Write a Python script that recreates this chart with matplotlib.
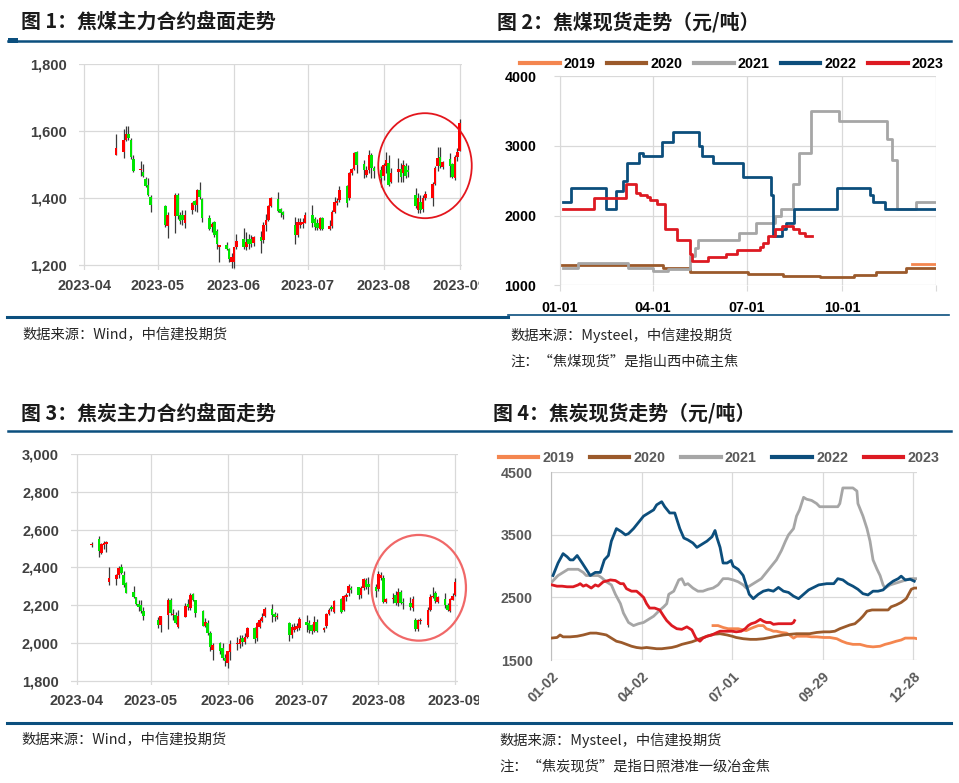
import datetime as dt

import matplotlib
matplotlib.use("Agg")
import matplotlib.pyplot as plt
import matplotlib.dates as mdates
import numpy as np
from matplotlib.font_manager import FontProperties
from matplotlib.lines import Line2D
from matplotlib.patches import Ellipse, Rectangle

plt.rcParams['font.family'] = ['Noto Sans CJK SC', 'DejaVu Sans']

# ---------------- data ----------------
# 图1 焦煤主力合约 (OHLC)
jm_dates = ["04-14", "04-17", "04-18", "04-19", "04-20", "04-21", "04-24", "04-25", "04-26", "04-27", "04-28",
            "05-04", "05-05", "05-08", "05-09", "05-10", "05-11", "05-12", "05-15", "05-16", "05-17", "05-18",
            "05-19", "05-22", "05-23", "05-24", "05-25", "05-26", "05-29", "05-30", "05-31",
            "06-01", "06-02", "06-05", "06-06", "06-07", "06-08", "06-09", "06-12", "06-13", "06-14", "06-15",
            "06-16", "06-19", "06-20", "06-21", "06-26", "06-27", "06-28", "06-29", "06-30",
            "07-03", "07-04", "07-05", "07-06", "07-07", "07-10", "07-11", "07-12", "07-13", "07-14", "07-17",
            "07-18", "07-19", "07-20", "07-21", "07-24", "07-25", "07-26", "07-27", "07-28", "07-31",
            "08-01", "08-02", "08-03", "08-04", "08-07", "08-08", "08-09", "08-10", "08-11", "08-14", "08-15",
            "08-16", "08-17", "08-18", "08-21", "08-22", "08-23", "08-24", "08-25", "08-28", "08-29", "08-30",
            "08-31", "09-01"]
jm_open = [1529, 1538, 1573, 1593, 1573, 1518, 1485, 1480, 1458, 1440, 1405,
           1378, 1318, 1348, 1411, 1350, 1350, 1326, 1366, 1393, 1381, 1426,
           1398, 1342, 1315, 1328, 1301, 1256, 1260, 1248, 1211,
           1211, 1256, 1278, 1256, 1278, 1278, 1268, 1285, 1275, 1321, 1335,
           1378, 1398, 1368, 1358, 1320, 1290, 1320, 1322, 1327,
           1350, 1337, 1327, 1307, 1340, 1308, 1317, 1360, 1385, 1395, 1438,
           1400, 1475, 1488, 1538, 1502, 1470, 1485, 1530, 1490, 1485,
           1467, 1495, 1505, 1450, 1480, 1487, 1477, 1497, 1485, 1410, 1365,
           1390, 1367, 1400, 1400, 1443, 1495, 1523, 1492, 1518, 1502, 1460,
           1523, 1542]
jm_high = [1591, 1608, 1615, 1615, 1580, 1530, 1510, 1501, 1463, 1462, 1411,
           1380, 1358, 1416, 1416, 1358, 1365, 1365, 1390, 1396, 1428, 1448,
           1400, 1351, 1330, 1333, 1308, 1262, 1270, 1253, 1238,
           1256, 1293, 1311, 1300, 1293, 1290, 1288, 1303, 1328, 1353, 1380,
           1403, 1418, 1372, 1363, 1345, 1340, 1340, 1340, 1360,
           1380, 1345, 1337, 1345, 1345, 1335, 1365, 1405, 1400, 1438, 1440,
           1478, 1490, 1538, 1540, 1515, 1495, 1545, 1535, 1495, 1495,
           1505, 1538, 1530, 1490, 1520, 1505, 1515, 1505, 1500, 1430, 1415,
           1410, 1410, 1422, 1448, 1495, 1552, 1552, 1512, 1535, 1505, 1530,
           1550, 1637]
jm_low = [1528, 1520, 1570, 1575, 1518, 1480, 1466, 1463, 1433, 1408, 1358,
          1313, 1283, 1296, 1338, 1323, 1320, 1310, 1353, 1363, 1358, 1398,
          1330, 1305, 1300, 1285, 1248, 1211, 1245, 1211, 1191,
          1191, 1248, 1248, 1246, 1248, 1255, 1258, 1238, 1268, 1303, 1333,
          1373, 1360, 1345, 1338, 1263, 1285, 1310, 1310, 1325,
          1315, 1305, 1305, 1305, 1305, 1305, 1310, 1357, 1380, 1390, 1375,
          1395, 1470, 1485, 1475, 1460, 1465, 1475, 1460, 1460, 1435,
          1455, 1475, 1437, 1445, 1450, 1450, 1450, 1460, 1465, 1370, 1355,
          1355, 1360, 1395, 1378, 1440, 1482, 1490, 1488, 1465, 1460, 1455,
          1510, 1540]
jm_close = [1549, 1573, 1593, 1580, 1523, 1483, 1487, 1468, 1438, 1411, 1381,
            1321, 1351, 1411, 1346, 1333, 1335, 1350, 1386, 1380, 1426, 1403,
            1340, 1308, 1323, 1290, 1263, 1261, 1248, 1218, 1226,
            1256, 1273, 1256, 1270, 1263, 1263, 1285, 1273, 1321, 1335, 1378,
            1400, 1363, 1355, 1351, 1290, 1330, 1330, 1330, 1350,
            1327, 1315, 1310, 1340, 1308, 1317, 1360, 1390, 1393, 1425, 1385,
            1475, 1488, 1535, 1500, 1485, 1485, 1530, 1490, 1483, 1460,
            1500, 1513, 1440, 1475, 1487, 1463, 1500, 1467, 1480, 1378, 1400,
            1365, 1402, 1412, 1443, 1490, 1520, 1495, 1507, 1495, 1465, 1523,
            1537, 1624]

# 图3 焦炭主力合约 (OHLC)
j_dates = ["04-07", "04-10", "04-11", "04-12", "04-13", "04-14", "04-17", "04-18", "04-19", "04-20", "04-21",
           "04-24", "04-25", "04-26", "04-27", "04-28",
           "05-04", "05-05", "05-08", "05-09", "05-10", "05-11", "05-12", "05-15", "05-16", "05-17", "05-18",
           "05-19", "05-22", "05-23", "05-24", "05-25", "05-26", "05-29", "05-30", "05-31",
           "06-01", "06-02", "06-05", "06-06", "06-07", "06-08", "06-09", "06-12", "06-13", "06-14", "06-15",
           "06-16", "06-19", "06-20", "06-21", "06-26", "06-27", "06-28", "06-29", "06-30",
           "07-03", "07-04", "07-05", "07-06", "07-07", "07-10", "07-11", "07-12", "07-13", "07-14", "07-17",
           "07-18", "07-19", "07-20", "07-21", "07-24", "07-25", "07-26", "07-27", "07-28", "07-31",
           "08-01", "08-02", "08-03", "08-04", "08-07", "08-08", "08-09", "08-10", "08-11", "08-14", "08-15",
           "08-16", "08-17", "08-18", "08-21", "08-22", "08-23", "08-24", "08-25", "08-28", "08-29", "08-30",
           "08-31", "09-01"]
j_open = [2520, 2553, 2477, 2517, 2523, 2325, 2339, 2360, 2400, 2360, 2319,
          2272, 2242, 2207, 2202, 2167,
          2123, 2093, 2146, 2228, 2150, 2149, 2082, 2140, 2207, 2184, 2260,
          2225, 2167, 2088, 2105, 2053, 1965, 2000, 1974, 1921,
          1895, 1951, 1995, 1995, 2025, 2007, 2030, 2078, 2025, 2087, 2118,
          2143, 2180, 2154, 2136, 2108, 2042, 2069, 2072, 2078,
          2109, 2104, 2095, 2065, 2113, 2069, 2090, 2154, 2192, 2166, 2231,
          2175, 2242, 2263, 2290, 2295, 2254, 2290, 2333, 2313, 2298,
          2284, 2343, 2343, 2219, 2232, 2254, 2214, 2272, 2215, 2210, 2184,
          2119, 2074, 2114, 2097, 2172, 2242, 2263, 2219, 2232, 2202, 2167,
          2228, 2254]
j_high = [2535, 2565, 2530, 2538, 2540, 2400, 2368, 2407, 2418, 2383, 2322,
          2302, 2245, 2228, 2228, 2190,
          2137, 2144, 2237, 2237, 2180, 2165, 2175, 2214, 2232, 2263, 2267,
          2225, 2176, 2130, 2120, 2062, 2000, 2003, 2000, 1940,
          1956, 2018, 2030, 2040, 2040, 2055, 2082, 2087, 2110, 2130, 2160,
          2192, 2206, 2165, 2160, 2110, 2100, 2108, 2105, 2140,
          2148, 2120, 2100, 2145, 2125, 2087, 2160, 2185, 2200, 2226, 2236,
          2252, 2265, 2310, 2300, 2298, 2300, 2345, 2345, 2350, 2310,
          2383, 2375, 2360, 2240, 2263, 2277, 2290, 2280, 2240, 2242, 2248,
          2130, 2125, 2130, 2193, 2260, 2295, 2277, 2250, 2267, 2210, 2240,
          2263, 2342]
j_low = [2509, 2456, 2470, 2500, 2482, 2307, 2307, 2342, 2368, 2298, 2265,
         2237, 2200, 2167, 2160, 2120,
         2079, 2058, 2075, 2149, 2120, 2100, 2080, 2137, 2175, 2175, 2220,
         2137, 2088, 2085, 2040, 1956, 1909, 1940, 1909, 1877,
         1868, 1909, 1960, 1975, 1985, 1995, 2025, 2002, 2010, 2078, 2110,
         2136, 2113, 2115, 2125, 2012, 2025, 2060, 2062, 2070,
         2060, 2055, 2050, 2060, 2060, 2060, 2078, 2150, 2170, 2160, 2160,
         2170, 2220, 2250, 2265, 2232, 2240, 2280, 2285, 2262, 2245,
         2275, 2335, 2210, 2210, 2210, 2200, 2196, 2205, 2180, 2176, 2170,
         2061, 2061, 2100, 2085, 2170, 2237, 2214, 2210, 2184, 2170, 2163,
         2225, 2250]
j_close = [2520, 2488, 2523, 2530, 2533, 2345, 2360, 2395, 2372, 2307, 2267,
           2242, 2207, 2192, 2167, 2144,
           2097, 2144, 2228, 2158, 2155, 2105, 2144, 2196, 2190, 2254, 2228,
           2158, 2088, 2109, 2053, 1979, 1991, 1956, 1921, 1904,
           1956, 1996, 1998, 2020, 2007, 2034, 2078, 2020, 2104, 2122, 2140,
           2180, 2148, 2140, 2145, 2042, 2086, 2086, 2088, 2125,
           2095, 2069, 2062, 2113, 2065, 2078, 2154, 2175, 2178, 2224, 2166,
           2249, 2254, 2302, 2282, 2254, 2290, 2337, 2298, 2295, 2277,
           2365, 2360, 2219, 2231, 2238, 2214, 2272, 2210, 2210, 2190, 2232,
           2074, 2123, 2123, 2172, 2246, 2249, 2224, 2246, 2202, 2175, 2232,
           2249, 2325]

# 图2 焦煤现货 (day of year, step values)
years = ["2019", "2020", "2021", "2022", "2023"]
year_colors = ["#F4864F", "#9B5A2B", "#A6A6A6", "#0C4E7C", "#DD1A22"]

cm_days_2019 = [341, 364]
cm_vals_2019 = [1300, 1300]
cm_days_2020 = [2, 100, 126, 182, 216, 252, 285, 306, 335, 364]
cm_vals_2020 = [1285, 1255, 1195, 1160, 1133, 1114, 1143, 1186, 1243, 1243]
cm_days_2021 = [3, 17, 66, 90, 105, 126, 131, 134, 173, 190, 208, 214, 226, 231, 243, 270, 317, 321, 326, 345, 364]
cm_vals_2021 = [1250, 1320, 1250, 1200, 1230, 1420, 1530, 1650, 1750, 1900, 2000, 2100, 2450, 2900, 3500, 3350,
                3100, 2800, 2100, 2200, 2200]
cm_days_2022 = [3, 11, 45, 54, 61, 65, 76, 80, 99, 109, 135, 137, 148, 177, 204, 206, 215, 219, 227, 268, 300, 303,
                315, 364]
cm_vals_2022 = [2200, 2400, 2100, 2350, 2500, 2750, 2900, 2850, 3050, 3200, 3000, 2850, 2750, 2550, 2300, 1700, 1800,
                1900, 2100, 2400, 2300, 2200, 2100, 2100]
cm_days_2023 = [3, 33, 64, 74, 77, 84, 87, 94, 102, 113, 126, 128, 143, 161, 171, 194, 197, 201, 208, 215, 226, 231,
                237, 244]
cm_vals_2023 = [2100, 2250, 2450, 2320, 2290, 2270, 2220, 2170, 1800, 1650, 1450, 1350, 1400, 1450, 1500, 1550, 1600,
                1700, 1800, 1850, 1800, 1750, 1700, 1700]

# 图4 焦炭现货 (day of year, values)
ck_days_2019 = [162, 167, 172, 177, 182, 187, 192, 195, 199, 202, 207, 212, 215, 219, 222, 225, 230, 235, 238, 242,
                245, 250, 255, 260, 265, 272, 278, 285, 290, 295, 301, 308, 315, 321, 328, 333, 338, 344, 349, 353,
                358, 362, 365]
ck_vals_2019 = [2050, 2050, 2020, 2000, 2000, 2000, 1980, 1970, 2000, 2020, 2050, 2050, 2000, 1980, 1960, 1960, 1940,
                1930, 1900, 1850, 1880, 1880, 1880, 1870, 1870, 1860, 1860, 1840, 1800, 1770, 1750, 1750, 1720, 1710,
                1720, 1750, 1770, 1800, 1820, 1850, 1850, 1850, 1840]
ck_days_2020 = [1, 7, 10, 13, 20, 27, 33, 40, 46, 53, 56, 61, 66, 71, 76, 81, 86, 91, 96, 101, 106, 111, 116, 121,
                126, 131, 136, 141, 146, 151, 156, 162, 169, 176, 181, 185, 192, 199, 205, 212, 219, 225, 232, 238,
                245, 252, 258, 265, 272, 278, 283, 288, 293, 298, 303, 308, 311, 315, 320, 325, 331, 336, 339, 344,
                349, 354, 357, 359, 362, 365]
ck_vals_2020 = [1850, 1860, 1900, 1870, 1870, 1880, 1900, 1930, 1930, 1910, 1900, 1850, 1800, 1780, 1750, 1720, 1700,
                1690, 1700, 1690, 1680, 1680, 1690, 1700, 1720, 1750, 1770, 1790, 1820, 1850, 1880, 1910, 1920, 1900,
                1880, 1860, 1840, 1830, 1830, 1840, 1860, 1880, 1900, 1910, 1920, 1920, 1920, 1940, 1950, 1950, 1960,
                2000, 2030, 2060, 2080, 2150, 2200, 2280, 2300, 2300, 2300, 2300, 2350, 2380, 2420, 2480, 2570, 2630,
                2650, 2650]
ck_days_2021 = [2, 8, 13, 18, 23, 28, 33, 36, 43, 48, 51, 56, 61, 65, 70, 73, 78, 83, 88, 93, 98, 103, 108, 113, 116,
                118, 123, 128, 131, 134, 137, 142, 147, 152, 157, 162, 167, 172, 177, 182, 187, 192, 195, 200, 205,
                210, 215, 220, 225, 230, 234, 237, 242, 245, 248, 252, 255, 260, 265, 268, 275, 282, 286, 288, 291,
                296, 301, 305, 306, 311, 315, 318, 321, 325, 328, 331, 333, 338, 348, 358, 364]
ck_vals_2021 = [2750, 2850, 2900, 2950, 2950, 2950, 2900, 2850, 2850, 2850, 2820, 2750, 2700, 2550, 2400, 2250, 2100,
                2050, 2080, 2100, 2150, 2200, 2280, 2350, 2400, 2550, 2600, 2780, 2800, 2700, 2720, 2650, 2600, 2600,
                2630, 2650, 2700, 2800, 2800, 2780, 2750, 2700, 2650, 2700, 2750, 2800, 2900, 3000, 3100, 3250, 3400,
                3500, 3600, 3800, 3900, 4100, 4070, 4050, 4000, 3950, 3950, 3950, 3950, 4000, 4250, 4250, 4250, 4200,
                4000, 3800, 3600, 3400, 3100, 2950, 2850, 2700, 2650, 2700, 2750, 2800, 2800]
ck_days_2022 = [3, 8, 13, 17, 20, 23, 27, 32, 36, 40, 45, 50, 54, 58, 61, 66, 71, 75, 78, 83, 88, 93, 98, 103, 106,
                111, 114, 119, 124, 129, 133, 137, 142, 146, 151, 156, 161, 164, 166, 169, 172, 176, 180, 182, 187,
                192, 195, 198, 202, 207, 212, 217, 222, 227, 232, 237, 242, 247, 252, 257, 262, 267, 275, 282, 286,
                291, 296, 301, 306, 311, 316, 321, 326, 331, 336, 341, 346, 349, 353, 358, 362]
ck_vals_2022 = [2850, 3050, 3200, 3150, 3100, 3100, 3170, 3050, 2950, 2850, 2900, 2900, 3100, 3170, 3400, 3600, 3550,
                3500, 3520, 3600, 3700, 3800, 3850, 3900, 3980, 4030, 3950, 3850, 3850, 3600, 3450, 3420, 3370, 3300,
                3350, 3400, 3470, 3570, 3450, 3300, 3050, 3050, 3090, 3000, 2950, 2850, 2700, 2550, 2480, 2550, 2600,
                2620, 2600, 2660, 2600, 2580, 2520, 2480, 2550, 2620, 2660, 2700, 2720, 2720, 2800, 2780, 2720, 2680,
                2630, 2560, 2540, 2600, 2600, 2620, 2700, 2760, 2800, 2840, 2780, 2790, 2760]
ck_days_2023 = [2, 7, 12, 17, 23, 28, 30, 33, 36, 41, 45, 48, 53, 58, 60, 65, 70, 73, 76, 81, 86, 89, 93, 96, 99, 104,
                109, 113, 116, 121, 126, 131, 136, 141, 145, 149, 152, 156, 161, 166, 169, 174, 177, 181, 185, 190,
                194, 197, 200, 204, 209, 212, 215, 219, 222, 227, 232, 237, 240, 242, 243]
ck_vals_2023 = [2700, 2680, 2680, 2670, 2670, 2700, 2720, 2680, 2700, 2650, 2700, 2680, 2750, 2770, 2780, 2770, 2720,
                2720, 2640, 2600, 2600, 2560, 2500, 2400, 2330, 2330, 2300, 2200, 2130, 2050, 2000, 1990, 2030, 1980,
                1850, 1800, 1850, 1880, 1900, 1940, 1960, 1960, 1960, 1960, 1950, 1960, 2000, 2050, 2080, 2100, 2150,
                2120, 2100, 2100, 2070, 2080, 2080, 2080, 2080, 2100, 2130]

month_ticks = ["2023-04", "2023-05", "2023-06", "2023-07", "2023-08", "2023-09"]
cm_tick_days = [0, 90, 181, 273, 364]
cm_tick_labels = ["01-01", "04-01", "07-01", "10-01", ""]
ck_tick_days = [1, 91, 181, 271, 361]
ck_tick_labels = ["01-02", "04-02", "07-01", "09-29", "12-28"]

# ---------------- layout helpers ----------------
W, H = 959, 783
NAVY = "#0B4F7E"
GRID = "#D9D9D9"


def rect(l, t, r, b):
    return [l / W, 1 - b / H, (r - l) / W, (b - t) / H]


def fx(x):
    return x / W


def fy(y):
    return 1 - y / H


def to_num(days):
    return mdates.date2num([dt.datetime.strptime("2023-" + s, "%Y-%m-%d") for s in days])


LAT = ["Liberation Sans", "DejaVu Sans"]
candle_tick_fp = FontProperties(family=LAT, weight="bold", size=10.5)
tick_fp = FontProperties(family=LAT, weight="bold", size=10.3)
legend_fp = FontProperties(family=LAT, weight="bold", size=10.3)
title_fp = FontProperties(family=["Noto Sans CJK SC", "DejaVu Sans"], weight="bold", size=14.3)
note_fp = FontProperties(family=["Noto Sans CJK SC", "DejaVu Sans"], size=10.3)


def draw_candles(ax, dates, o, h, l, c):
    x = to_num(dates)
    o, h, l, c = map(np.array, (o, h, l, c))
    ax.vlines(x, l, h, color="#3A3A3A", lw=0.9, zorder=2)
    bottom = np.minimum(o, c)
    height = np.maximum(np.abs(c - o), 3)
    colors = np.where(c >= o, "#FF0000", "#00E600")
    ax.bar(x, height, bottom=bottom, width=1.05, color=colors, linewidth=0, zorder=3)


def candle_axes(box, first_px, last_px, ymin, ymax, yticks):
    ax = fig.add_axes(rect(*box))
    a = mdates.date2num(dt.datetime(2023, 4, 1))
    b = mdates.date2num(dt.datetime(2023, 9, 1))
    per_day = (last_px - first_px) / (b - a)
    ax.set_xlim(a - (first_px - box[0]) / per_day, b + (box[2] - last_px) / per_day)
    ax.set_ylim(ymin, ymax)
    ax.set_yticks(yticks)
    ax.set_yticklabels([f"{v:,}" for v in yticks], fontproperties=candle_tick_fp)
    ax.set_xticks([mdates.date2num(dt.datetime(2023, m, 1)) for m in range(4, 10)])
    ax.set_xticklabels(month_ticks, fontproperties=candle_tick_fp)
    ax.grid(True, color=GRID, lw=0.9, zorder=0)
    ax.set_axisbelow(True)
    for s in ax.spines.values():
        s.set_visible(False)
    ax.tick_params(length=0, labelcolor="#404040")
    ax.tick_params(axis="y", pad=8.5)
    ax.tick_params(axis="x", pad=6.5)
    return ax


fig = plt.figure(figsize=(W / 100, H / 100), dpi=100)
fig.patch.set_facecolor("white")

# ---------------- panel 1 ----------------
ax1 = candle_axes((79, 64.3, 462, 270), 84.3, 459.7, 1186, 1800, [1200, 1400, 1600, 1800])
draw_candles(ax1, jm_dates, jm_open, jm_high, jm_low, jm_close)

# ---------------- panel 3 ----------------
ax3 = candle_axes((70.7, 454.3, 458.3, 685), 76.7, 455, 1777, 3000, [1800, 2000, 2200, 2400, 2600, 2800, 3000])
draw_candles(ax3, j_dates, j_open, j_high, j_low, j_close)

# the last month label is cut off at the panel edge in the source
for y0, y1 in ((276, 296), (689, 709)):
    fig.add_artist(Rectangle((fx(479), fy(y1)), 20 / W, (y1 - y0) / H, color="white", lw=0, zorder=10))

# ---------------- panel 2 ----------------
ax2 = fig.add_axes(rect(560, 76, 936, 285.3))
cm_series = [(cm_days_2019, cm_vals_2019), (cm_days_2020, cm_vals_2020), (cm_days_2021, cm_vals_2021),
             (cm_days_2022, cm_vals_2022), (cm_days_2023, cm_vals_2023)]
for (days, vals), col in zip(cm_series, year_colors):
    ax2.step(days, vals, where="post", color=col, lw=2.0, zorder=3)
ax2.set_xlim(0, 364)
ax2.set_ylim(1000, 4000)
ax2.set_xticks(cm_tick_days)
ax2.set_xticklabels(cm_tick_labels, fontproperties=tick_fp)
ax2.set_yticks([1000, 2000, 3000, 4000])
ax2.set_yticklabels(["1000", "2000", "3000", "4000"], fontproperties=tick_fp)
ax2.grid(True, color=GRID, lw=0.9, zorder=0)
for k, s in ax2.spines.items():
    s.set_visible(k == "left")
ax2.spines["left"].set_color(GRID)
ax2.tick_params(axis="x", length=4, color=GRID, pad=7, labelcolor="black")
ax2.tick_params(axis="y", length=4, color=GRID, pad=13, labelcolor="black")

handles = [Line2D([], [], color=c, lw=3) for c in year_colors]
fig.legend(handles, years, loc="center", bbox_to_anchor=(fx(732), fy(64)), ncol=5, frameon=False,
           handlelength=2.75, handletextpad=0.3, columnspacing=0.8, prop=legend_fp, borderpad=0)

# ---------------- panel 4 ----------------
ax4 = fig.add_axes(rect(551, 472.3, 917.3, 660))
ck_series = [(ck_days_2019, ck_vals_2019), (ck_days_2020, ck_vals_2020), (ck_days_2021, ck_vals_2021),
             (ck_days_2022, ck_vals_2022), (ck_days_2023, ck_vals_2023)]
for (days, vals), col in zip(ck_series, year_colors):
    ax4.plot(days, vals, color=col, lw=2.0, zorder=3)
ax4.set_xlim(1, 365)
ax4.set_ylim(1500, 4500)
ax4.set_xticks(ck_tick_days)
ax4.set_xticklabels(ck_tick_labels, fontproperties=tick_fp, rotation=45, ha="right", rotation_mode="anchor")
ax4.set_yticks([1500, 2500, 3500, 4500])
ax4.set_yticklabels(["1500", "2500", "3500", "4500"], fontproperties=tick_fp)
ax4.grid(True, color=GRID, lw=0.9, zorder=0)
for k, s in ax4.spines.items():
    s.set_visible(k == "left")
ax4.spines["left"].set_color("#BFBFBF")
ax4.tick_params(axis="x", length=0, pad=7, labelcolor="#595959")
ax4.tick_params(axis="y", length=0, pad=13, labelcolor="#595959")

leg4 = fig.legend(handles, years, loc="center", bbox_to_anchor=(fx(719), fy(458)), ncol=5, frameon=False,
                  handlelength=2.75, handletextpad=0.3, columnspacing=1.1, prop=legend_fp, borderpad=0)
for t in leg4.get_texts():
    t.set_color("#595959")

# ---------------- titles, rules, notes ----------------
fig.text(fx(21), fy(21.5), "图 1：焦煤主力合约盘面走势", fontproperties=title_fp, va="center", color="#1A1A1A")
fig.text(fx(497), fy(21.5), "图 2：焦煤现货走势（元/吨）", fontproperties=title_fp, va="center", color="#1A1A1A")
fig.text(fx(21), fy(413), "图 3：焦炭主力合约盘面走势", fontproperties=title_fp, va="center", color="#1A1A1A")
fig.text(fx(493), fy(413), "图 4：焦炭现货走势（元/吨）", fontproperties=title_fp, va="center", color="#1A1A1A")

for y in (40.5, 431):
    fig.add_artist(Line2D([fx(8), fx(951)], [fy(y), fy(y)], color=NAVY, lw=1.8))
fig.add_artist(Rectangle((fx(8), fy(43)), 10 / W, 4.5 / H, color=NAVY, lw=0))
fig.add_artist(Line2D([fx(7), fx(508)], [fy(316.5), fy(316.5)], color=NAVY, lw=2.2))
fig.add_artist(Line2D([fx(508), fx(949)], [fy(315.5), fy(315.5)], color=NAVY, lw=1.2))
fig.add_artist(Line2D([fx(7), fx(951)], [fy(722.5), fy(722.5)], color=NAVY, lw=2.2))

notes = [(22, 335, "数据来源：Wind，中信建投期货"),
         (510, 335, "数据来源：Mysteel，中信建投期货"),
         (510, 362, "注：“焦煤现货”是指山西中硫主焦"),
         (21, 740, "数据来源：Wind，中信建投期货"),
         (499, 740, "数据来源：Mysteel，中信建投期货"),
         (499, 767, "注：“焦炭现货”是指日照港准一级冶金焦")]
for x, y, s in notes:
    fig.text(fx(x), fy(y), s, fontproperties=note_fp, va="center", color="#262626")

# red highlight circles
fig.add_artist(Ellipse((fx(425), fy(165.7)), 93.5 / W, 105 / H, transform=fig.transFigure,
                       fill=False, ec="#E3161D", lw=1.3))
fig.add_artist(Ellipse((fx(418.8), fy(587.8)), 94.3 / W, 105.7 / H, transform=fig.transFigure,
                       fill=False, ec="#F06868", lw=1.6))

fig.savefig("out.png", dpi=100, facecolor="white")
